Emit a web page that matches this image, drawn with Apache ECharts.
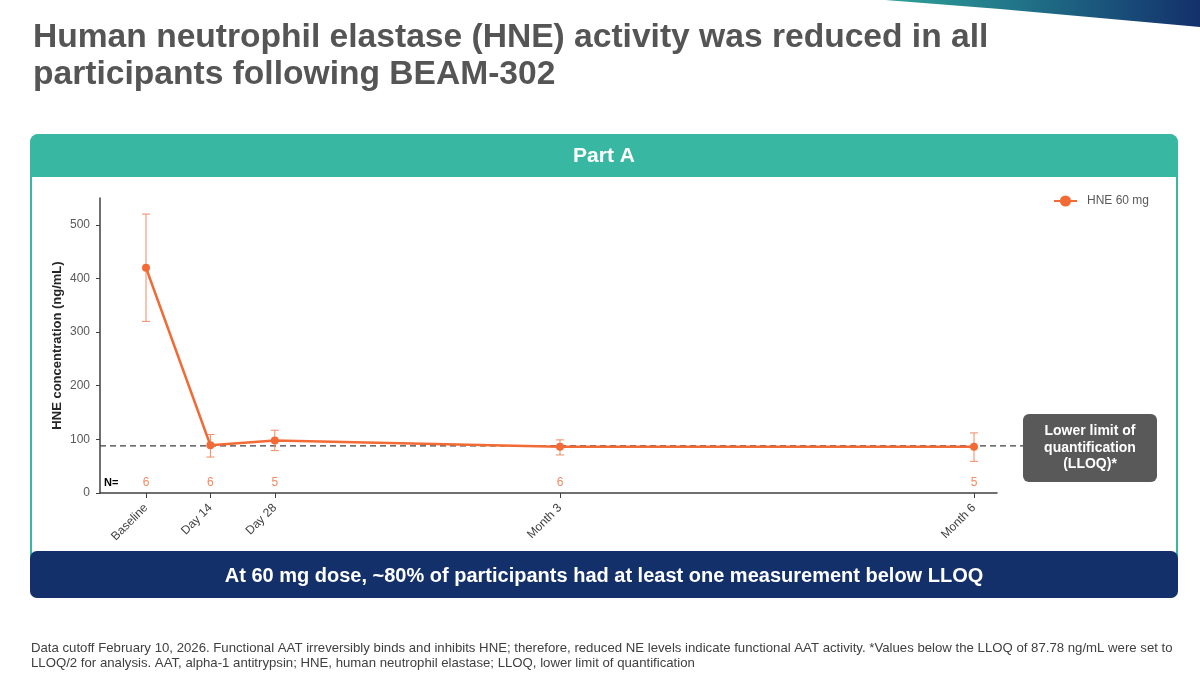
<!DOCTYPE html>
<html>
<head>
<meta charset="utf-8">
<script src="https://cdn.jsdelivr.net/npm/echarts@6/dist/echarts.min.js"></script>
<style>
  html, body { margin: 0; padding: 0; background: #fff; }
  #chart { width: 1200px; height: 676px; }
</style>
</head>
<body>
<div id="chart"></div>
<script>
// visits, placed on a day scale
const visitLabels = ['Baseline', 'Day 14', 'Day 28', 'Month 3', 'Month 6'];
const visitDays = [0, 14, 28, 90, 180];

// HNE 60 mg, mean and error bar ends (ng/mL)
const hneMean = [420, 89, 98, 86, 86];
const hneLow = [320, 67, 79, 71, 59];
const hneHigh = [520, 109, 117, 99, 112];
const nCounts = [6, 6, 5, 6, 5];

const yTicks = [0, 100, 200, 300, 400, 500];
const lloq = 87.78;

const orange = '#f26b36';
const orangeLight = '#f28a62';
const teal = '#38b8a2';
const navy = '#13306b';
const font = '"Liberation Sans", Arial, sans-serif';

let myChart = echarts.init(document.getElementById('chart'));

let panel = [
  {
    type: 'rect', id: 'panelBox', z: -10,
    shape: { x: 31, y: 135, width: 1146, height: 462, r: 8 },
    style: { fill: '#fff', stroke: teal, lineWidth: 2 },
  },
  {
    type: 'rect', id: 'panelHead', z: -9,
    shape: { x: 30, y: 134, width: 1148, height: 43, r: [8, 8, 0, 0] },
    style: { fill: teal },
  },
  {
    type: 'text', id: 'partA', z: -8,
    x: 604, y: 156,
    style: { text: 'Part A', fill: '#fff', font: 'bold 21px ' + font, align: 'center', verticalAlign: 'middle' },
  },
  {
    type: 'rect', id: 'banner', z: -9,
    shape: { x: 30, y: 551, width: 1148, height: 47, r: 7 },
    style: { fill: navy },
  },
  {
    type: 'text', id: 'bannerText', z: -8,
    x: 604, y: 576,
    style: {
      text: 'At 60 mg dose, ~80% of participants had at least one measurement below LLOQ',
      fill: '#fff', font: 'bold 20px ' + font, align: 'center', verticalAlign: 'middle',
    },
  },
  {
    type: 'polygon', id: 'swoosh', z: -9,
    shape: { points: [[885, 0], [1200, 0], [1200, 27], [1100, 18], [1000, 9]] },
    style: {
      fill: new echarts.graphic.LinearGradient(0, 0, 1, 0, [
        { offset: 0, color: '#2fa39a' },
        { offset: 0.5, color: '#1f6b85' },
        { offset: 1, color: navy },
      ]),
    },
  },
  {
    type: 'text', id: 'title1', x: 33, y: 38,
    style: {
      text: 'Human neutrophil elastase (HNE) activity was reduced in all',
      fill: '#555555', font: 'bold 33.6px ' + font, verticalAlign: 'middle',
    },
  },
  {
    type: 'text', id: 'title2', x: 33, y: 75,
    style: {
      text: 'participants following BEAM-302',
      fill: '#555555', font: 'bold 33.6px ' + font, verticalAlign: 'middle',
    },
  },
  {
    type: 'text', id: 'foot1', x: 31, y: 648,
    style: {
      text: 'Data cutoff February 10, 2026. Functional AAT irreversibly binds and inhibits HNE; therefore, reduced NE levels indicate functional AAT activity. *Values below the LLOQ of 87.78 ng/mL were set to',
      fill: '#404040', font: '13.2px ' + font, verticalAlign: 'middle',
    },
  },
  {
    type: 'text', id: 'foot2', x: 31, y: 663,
    style: {
      text: 'LLOQ/2 for analysis. AAT, alpha-1 antitrypsin; HNE, human neutrophil elastase; LLOQ, lower limit of quantification',
      fill: '#404040', font: '13.2px ' + font, verticalAlign: 'middle',
    },
  },
  {
    type: 'text', id: 'nLabel', x: 104, y: 483,
    style: { text: 'N=', fill: '#000', font: 'bold 11px ' + font, verticalAlign: 'middle' },
  },
];

let option = {
  animation: false,
  backgroundColor: '#fff',
  textStyle: { fontFamily: font },
  grid: { left: 100, right: 203, top: 198, bottom: 183 },
  legend: {
    data: ['HNE 60 mg'],
    right: 46,
    top: 190,
    itemWidth: 23,
    itemHeight: 14,
    textStyle: { color: '#595959', fontSize: 12, padding: [0, 0, 0, 5] },
  },
  xAxis: {
    type: 'value',
    min: -10,
    max: 185,
    splitLine: { show: false },
    axisLine: { onZero: false, lineStyle: { color: '#404040', width: 1.5 } },
    axisTick: { customValues: visitDays, length: 5, lineStyle: { color: '#404040' } },
    axisLabel: {
      customValues: visitDays,
      formatter: (v) => visitLabels[visitDays.indexOf(v)],
      rotate: 45,
      margin: 13,
      color: '#404040',
      fontSize: 12,
    },
  },
  yAxis: {
    type: 'value',
    min: 0,
    max: 550,
    name: 'HNE concentration (ng/mL)',
    nameLocation: 'middle',
    nameRotate: 90,
    nameGap: 36,
    nameMoveOverlap: false,
    nameTextStyle: { color: '#262626', fontSize: 13, fontWeight: 'bold' },
    splitLine: { show: false },
    axisLine: { show: true, onZero: false, lineStyle: { color: '#404040', width: 1.5 } },
    axisTick: { show: true, customValues: yTicks, length: 4, lineStyle: { color: '#404040' } },
    axisLabel: { customValues: yTicks, color: '#595959', fontSize: 12, margin: 10 },
  },
  series: [
    {
      name: 'errorBars',
      type: 'custom',
      z: 3,
      encode: { x: 0, y: [1, 2] },
      data: visitDays.map((d, i) => [d, hneLow[i], hneHigh[i]]),
      renderItem: (params, api) => {
        const lo = api.coord([api.value(0), api.value(1)]);
        const hi = api.coord([api.value(0), api.value(2)]);
        const st = { stroke: orangeLight, lineWidth: 1 };
        return {
          type: 'group',
          children: [
            { type: 'line', shape: { x1: lo[0], y1: lo[1], x2: hi[0], y2: hi[1] }, style: st },
            { type: 'line', shape: { x1: lo[0] - 4, y1: lo[1], x2: lo[0] + 4, y2: lo[1] }, style: st },
            { type: 'line', shape: { x1: hi[0] - 4, y1: hi[1], x2: hi[0] + 4, y2: hi[1] }, style: st },
          ],
        };
      },
    },
    {
      name: 'HNE 60 mg',
      type: 'line',
      z: 4,
      data: visitDays.map((d, i) => [d, hneMean[i]]),
      symbol: 'circle',
      symbolSize: 8,
      color: orange,
      lineStyle: { color: orange, width: 2.5 },
      itemStyle: { color: orange },
    },
    {
      name: 'nCounts',
      type: 'custom',
      encode: { x: 0, y: 1 },
      data: visitDays.map((d, i) => [d, nCounts[i]]),
      renderItem: (params, api) => {
        const p = api.coord([api.value(0), 0]);
        return {
          type: 'text',
          x: p[0],
          y: p[1] - 10,
          style: {
            text: String(api.value(1)),
            fill: orangeLight,
            font: '12px ' + font,
            align: 'center',
            verticalAlign: 'middle',
          },
        };
      },
    },
  ],
  graphic: panel,
};

myChart.setOption(option);

// LLOQ reference line and its callout box
const pLeft = myChart.convertToPixel({ gridIndex: 0 }, [-10, lloq]);
const boxLeft = 1023;
myChart.setOption({
  graphic: [
    {
      type: 'line', id: 'lloqLine', z: 1,
      shape: { x1: pLeft[0], y1: pLeft[1], x2: boxLeft, y2: pLeft[1] },
      style: { stroke: '#404040', lineWidth: 1.2, lineDash: [6, 4] },
    },
    {
      type: 'rect', id: 'lloqBox', z: 5,
      shape: { x: boxLeft, y: 414, width: 134, height: 68, r: 6 },
      style: { fill: '#595959' },
    },
    {
      type: 'text', id: 'lloqText', z: 6,
      x: boxLeft + 67, y: 448,
      style: {
        text: 'Lower limit of\nquantification\n(LLOQ)*',
        fill: '#fff', font: 'bold 14px ' + font, lineHeight: 16.5,
        align: 'center', verticalAlign: 'middle',
      },
    },
  ],
});

window.addEventListener('resize', () => {
  myChart.resize();
});
</script>
</body>
</html>
